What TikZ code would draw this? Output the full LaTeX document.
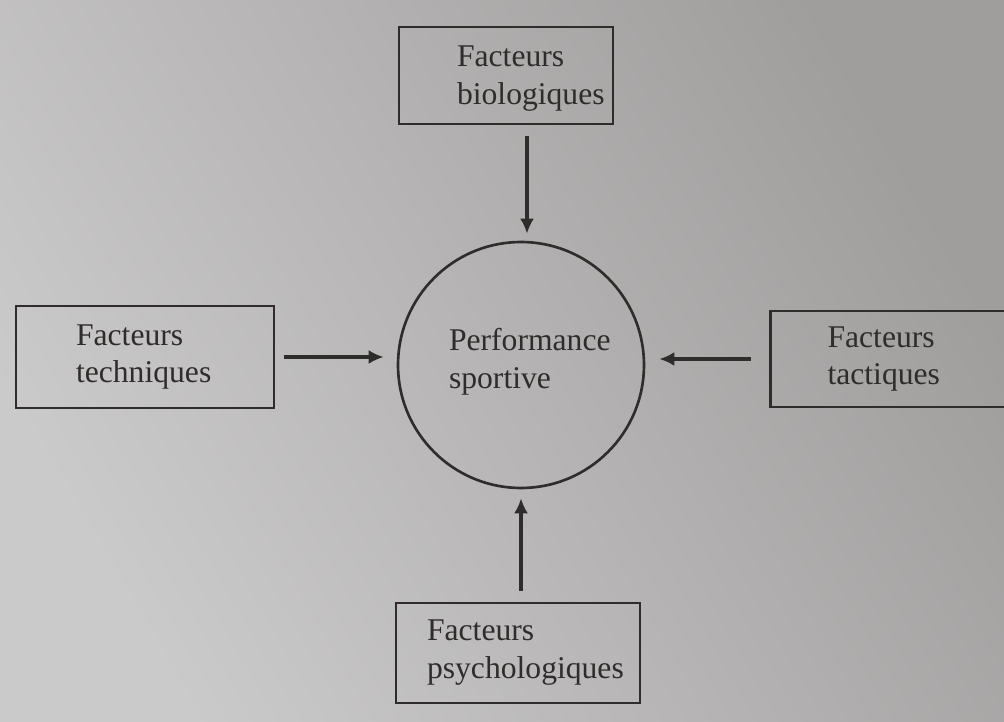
\documentclass[tikz,border=0pt]{standalone}
\usepackage{fontspec}
\setmainfont{Liberation Serif}
\usetikzlibrary{arrows.meta}
\definecolor{ink}{RGB}{48,44,44}
\definecolor{paperL}{RGB}{203,202,202}
\definecolor{paperR}{RGB}{160,157,157}
\begin{document}
\begin{tikzpicture}[x=0.02cm, y=-0.02cm,
        factor/.style={draw=ink, line width=1.5pt, rectangle, inner sep=0pt},
        label/.style={inner sep=0pt, anchor=west, align=left, text=ink,
                font=\fontsize{18}{21.6}\selectfont},
        flow/.style={draw=ink, line width=2pt, -{Latex[length=0.3cm, width=0.28cm]}}]
    \useasboundingbox (0,0) rectangle (1004,722);
    \clip (0,0) rectangle (1004,722);
    \shade[left color=paperL, right color=paperR, shading angle=120] (0,0) rectangle (1004,722);
    % Boxes and circle
    \node[factor, minimum width=4.28cm, minimum height=1.94cm] (bio) at (506,75.5) {};
    \node[factor, minimum width=5.16cm, minimum height=2.04cm] (tech) at (145,357) {};
    \node[factor, minimum width=5.18cm, minimum height=1.92cm] (tact) at (900,359) {};
    \node[factor, minimum width=4.88cm, minimum height=2.0cm] (psy) at (518,653) {};
    \node[draw=ink, line width=1.5pt, circle, minimum size=4.92cm, inner sep=0pt] (perf) at (521,365) {};
    % Texts
    \node[label, xshift=1.18cm, yshift=-0.06cm] (bio-txt) at (bio.west) {Facteurs\\biologiques};
    \node[label, xshift=1.22cm] (tech-txt) at (tech.west) {Facteurs\\techniques};
    \node[label, xshift=1.16cm] (tact-txt) at (tact.west) {Facteurs\\tactiques};
    \node[label, xshift=0.64cm] (psy-txt) at (psy.west) {Facteurs\\psychologiques};
    \node[label, xshift=1.04cm, yshift=0.06cm] (perf-txt) at (perf.west) {Performance\\sportive};
    % Arrows
    \draw[flow, shorten <=0.22cm, shorten >=0.14cm] ([xshift=0.12cm]bio.south -| perf.north) -- ([xshift=0.12cm]perf.north);
    \draw[flow, shorten <=0.18cm, shorten >=0.26cm] (tech.east) -- (tech.east -| perf.west);
    \draw[flow, shorten <=0.36cm, shorten >=0.28cm] (tact.west) -- (tact.west -| perf.east);
    \draw[flow, shorten <=0.22cm, shorten >=0.18cm] (psy.north -| perf.south) -- (perf.south);
\end{tikzpicture}
\end{document}
